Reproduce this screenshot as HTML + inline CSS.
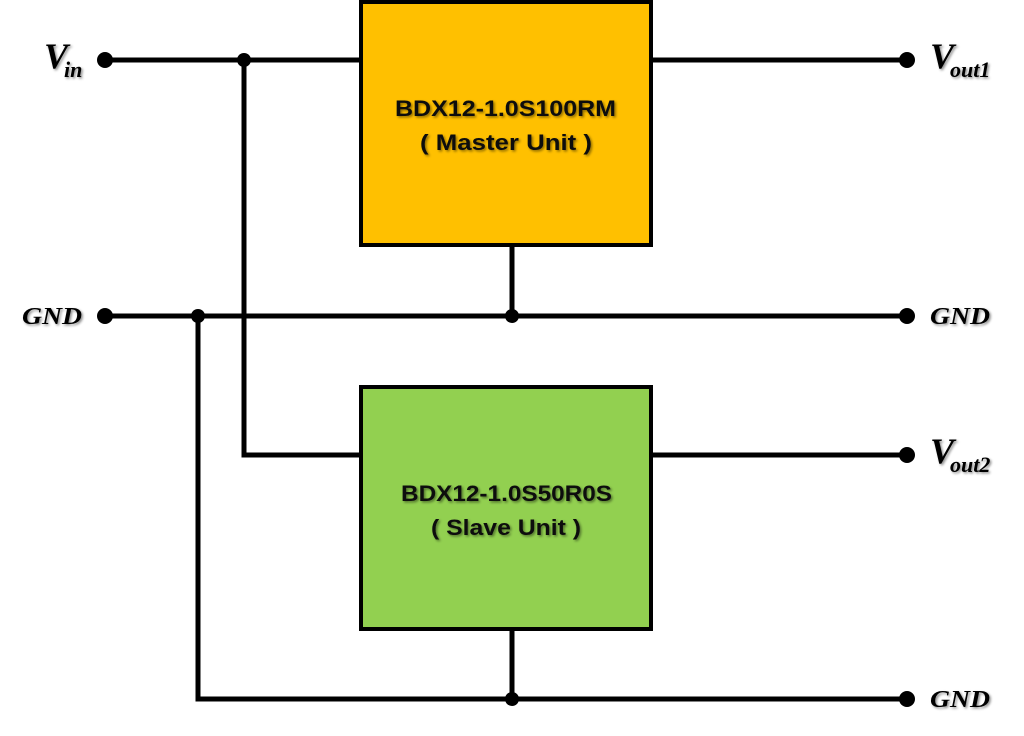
<!DOCTYPE html>
<html><head><meta charset="utf-8"><style>
html,body{margin:0;padding:0;background:#fff;}
svg{display:block;}
.lbl{font-family:"Liberation Serif",serif;font-weight:bold;font-style:italic;fill:#000;}
.box{font-family:"Liberation Sans",sans-serif;font-weight:bold;font-size:22px;fill:#111;}
</style></head><body>
<svg width="1024" height="736" viewBox="0 0 1024 736" xmlns="http://www.w3.org/2000/svg">
<defs><filter id="sh" x="-10%" y="-10%" width="130%" height="140%"><feDropShadow dx="1.5" dy="1.5" stdDeviation="1.2" flood-color="#000" flood-opacity="0.45"/></filter></defs>
<g stroke="#000" stroke-width="5" fill="none" stroke-linecap="square">
<line x1="105" y1="60" x2="360" y2="60"/>
<line x1="652" y1="60" x2="907" y2="60"/>
<line x1="244" y1="60" x2="244" y2="455"/>
<line x1="244" y1="455" x2="360" y2="455"/>
<line x1="652" y1="455" x2="907" y2="455"/>
<line x1="105" y1="316" x2="907" y2="316"/>
<line x1="198" y1="316" x2="198" y2="699"/>
<line x1="198" y1="699" x2="907" y2="699"/>
<line x1="512" y1="246" x2="512" y2="316"/>
<line x1="512" y1="630" x2="512" y2="699"/>
</g>
<rect x="361" y="2" width="290" height="243" fill="#FFC000" stroke="#000" stroke-width="4"/>
<rect x="361" y="387" width="290" height="242" fill="#92D050" stroke="#000" stroke-width="4"/>
<g fill="#000">
<circle cx="105" cy="60" r="8"/><circle cx="244" cy="60" r="7"/><circle cx="907" cy="60" r="8"/>
<circle cx="105" cy="316" r="8"/><circle cx="198" cy="316" r="7"/><circle cx="512" cy="316" r="7"/><circle cx="907" cy="316" r="8"/>
<circle cx="907" cy="455" r="8"/>
<circle cx="512" cy="699" r="7"/><circle cx="907" cy="699" r="8"/>
</g>
<g class="box" filter="url(#sh)">
<text x="395" y="116" textLength="221" lengthAdjust="spacingAndGlyphs">BDX12-1.0S100RM</text>
<text x="420" y="150" textLength="172" lengthAdjust="spacingAndGlyphs">( Master Unit )</text>
<text x="401" y="501" textLength="211" lengthAdjust="spacingAndGlyphs">BDX12-1.0S50R0S</text>
<text x="431" y="535" textLength="150" lengthAdjust="spacingAndGlyphs">( Slave Unit )</text>
</g>
<g class="lbl" filter="url(#sh)">
<text x="44" y="68" font-size="36">V</text><text x="64" y="77" font-size="22">in</text>
<text x="22" y="324" font-size="24" textLength="60" lengthAdjust="spacingAndGlyphs">GND</text>
<text x="930" y="68" font-size="36">V</text><text x="950" y="77" font-size="22">out1</text>
<text x="930" y="324" font-size="24" textLength="60" lengthAdjust="spacingAndGlyphs">GND</text>
<text x="930" y="463" font-size="36">V</text><text x="950" y="472" font-size="22">out2</text>
<text x="930" y="707" font-size="24" textLength="60" lengthAdjust="spacingAndGlyphs">GND</text>
</g>
</svg>
</body></html>
